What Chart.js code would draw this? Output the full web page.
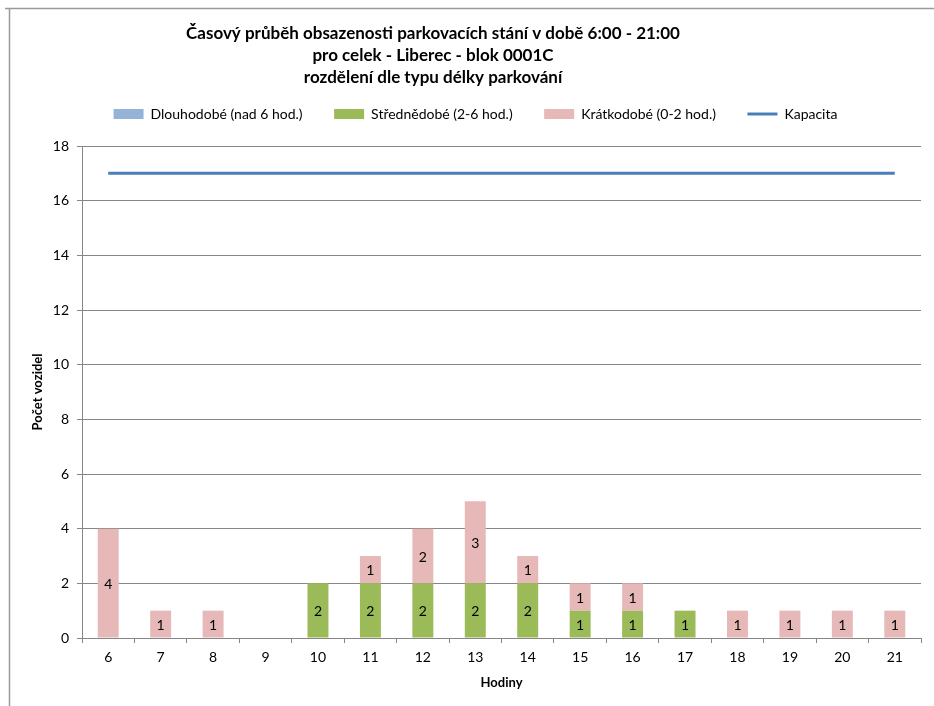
<!DOCTYPE html>
<html>
<head>
<meta charset="utf-8">
<script src="https://cdn.jsdelivr.net/npm/chart.js@4"></script>
<style>
  html, body { margin: 0; padding: 0; background: #fff; }
  #wrap { position: relative; width: 934px; height: 706px; }
</style>
</head>
<body>
<div id="wrap"><canvas id="parkChart" width="934" height="706"></canvas></div>
<script>
// Data
const hodiny = ['6', '7', '8', '9', '10', '11', '12', '13', '14', '15', '16', '17', '18', '19', '20', '21'];
const dlouhodobe = [0, 0, 0, 0, 0, 0, 0, 0, 0, 0, 0, 0, 0, 0, 0, 0];
const strednedobe = [0, 0, 0, 0, 2, 2, 2, 2, 2, 1, 1, 1, 0, 0, 0, 0];
const kratkodobe = [4, 1, 1, 0, 0, 1, 2, 3, 1, 1, 1, 0, 1, 1, 1, 1];
const kapacita = [17, 17, 17, 17, 17, 17, 17, 17, 17, 17, 17, 17, 17, 17, 17, 17];
const titulek = [
    'Časový průběh obsazenosti parkovacích stání v době 6:00 - 21:00',
    'pro celek - Liberec - blok 0001C',
    'rozdělení dle typu délky parkování'
];

const FONT = 'Lato, "Liberation Sans", sans-serif';

// Legenda - větší mezera pod položkami a posun doprava
const legendSpace = {
    id: 'legendSpace',
    beforeInit(chart) {
        const origFit = chart.legend.fit;
        chart.legend.fit = function () {
            origFit.call(this);
            this.height = 49;
        };
    },
    afterLayout(chart) {
        chart.legend.left += 15;
        chart.legend.right += 15;
    }
};

// Popisky hodnot uprostřed sloupců
const valueLabels = {
    id: 'valueLabels',
    afterDatasetsDraw(chart) {
        const ctx = chart.ctx;
        ctx.save();
        ctx.font = '14px ' + FONT;
        ctx.fillStyle = '#000';
        ctx.textAlign = 'center';
        ctx.textBaseline = 'middle';
        chart.data.datasets.forEach((ds, i) => {
            if (ds.type === 'line') return;
            const meta = chart.getDatasetMeta(i);
            meta.data.forEach((bar, j) => {
                const v = ds.data[j];
                if (!v) return;
                ctx.fillText(String(v), bar.x, (bar.y + bar.base) / 2 + 1);
            });
        });
        ctx.restore();
    }
};

// Titulek, popisky os a rámeček
const decor = {
    id: 'decor',
    afterDraw(chart) {
        const ctx = chart.ctx;
        const area = chart.chartArea;
        ctx.save();
        ctx.strokeStyle = '#9a9a9a';
        ctx.lineWidth = 1.5;
        ctx.beginPath();
        ctx.moveTo(5, 8.5);
        ctx.lineTo(934, 8.5);
        ctx.moveTo(9.5, 8);
        ctx.lineTo(9.5, 706);
        ctx.stroke();

        ctx.fillStyle = '#000';
        ctx.textAlign = 'center';
        ctx.textBaseline = 'middle';
        ctx.font = 'bold 17px ' + FONT;
        titulek.forEach((t, i) => ctx.fillText(t, 433, 34 + i * 22));

        ctx.font = 'bold 13px ' + FONT;
        ctx.fillText('Hodiny', (area.left + area.right) / 2, 683);
        ctx.translate(38, 392);
        ctx.rotate(-Math.PI / 2);
        ctx.fillText('Počet vozidel', 0, 0);
        ctx.restore();
    }
};

const ctx = document.getElementById('parkChart').getContext('2d');

new Chart(ctx, {
    type: 'bar',
    data: {
        labels: hodiny,
        datasets: [
            {
                label: 'Dlouhodobé (nad 6 hod.)',
                data: dlouhodobe,
                backgroundColor: '#95b3d7',
                stack: 'obsazenost',
                pointStyle: 'rect',
                barPercentage: 0.4,
                categoryPercentage: 1
            },
            {
                label: 'Střednědobé (2-6 hod.)',
                data: strednedobe,
                backgroundColor: '#9bbb59',
                stack: 'obsazenost',
                pointStyle: 'rect',
                barPercentage: 0.4,
                categoryPercentage: 1
            },
            {
                label: 'Krátkodobé (0-2 hod.)',
                data: kratkodobe,
                backgroundColor: '#e6b9b8',
                stack: 'obsazenost',
                pointStyle: 'rect',
                barPercentage: 0.4,
                categoryPercentage: 1
            },
            {
                type: 'line',
                label: 'Kapacita',
                data: kapacita,
                borderColor: '#4a7ebb',
                backgroundColor: '#4a7ebb',
                borderWidth: 3,
                pointRadius: 0,
                pointStyle: 'line',
                stack: 'kapacita',
                fill: false
            }
        ]
    },
    options: {
        responsive: false,
        animation: false,
        layout: {
            padding: { top: 97, left: 0, right: 13, bottom: 0 }
        },
        plugins: {
            title: { display: false },
            tooltip: { enabled: false },
            legend: {
                position: 'top',
                labels: {
                    usePointStyle: true,
                    pointStyleWidth: 30,
                    boxHeight: 10,
                    padding: 10,
                    color: '#000',
                    font: { family: FONT, size: 14 },
                    generateLabels(chart) {
                        const items = Chart.defaults.plugins.legend.labels.generateLabels(chart);
                        // mezery mezi položkami legendy
                        items.forEach((it, i) => {
                            if (i < items.length - 1) it.text = it.text + '      ';
                        });
                        return items;
                    }
                }
            }
        },
        scales: {
            x: {
                stacked: true,
                grid: {
                    offset: true,
                    drawOnChartArea: false,
                    drawTicks: true,
                    tickLength: 5,
                    color: '#868686'
                },
                border: { color: '#868686' },
                ticks: {
                    color: '#000',
                    padding: 6,
                    font: { family: FONT, size: 14 }
                },
                afterFit(scale) { scale.height = 68; }
            },
            y: {
                stacked: true,
                min: 0,
                max: 18,
                grid: {
                    color: '#868686',
                    tickLength: 5
                },
                border: { color: '#868686' },
                ticks: {
                    stepSize: 2,
                    color: '#000',
                    padding: 8,
                    font: { family: FONT, size: 14 }
                },
                afterFit(scale) { scale.width = 82; }
            }
        }
    },
    plugins: [legendSpace, valueLabels, decor]
});
</script>
</body>
</html>
